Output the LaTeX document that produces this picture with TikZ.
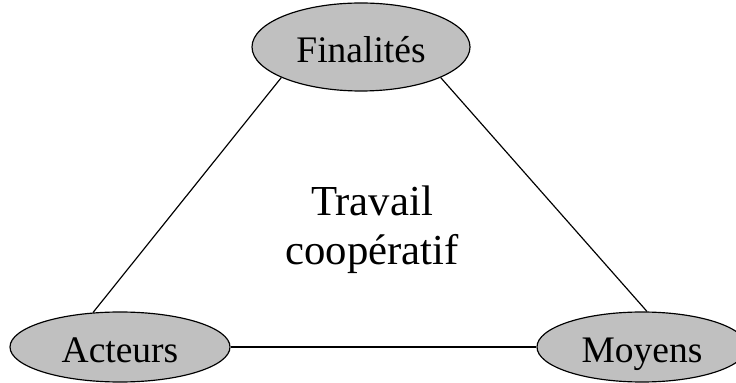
\documentclass[tikz,border=0pt]{standalone}
\usepackage{fontspec}
\setmainfont{Liberation Serif}
\usepackage{tikz}
\usetikzlibrary{shapes,positioning}
\definecolor{bubblegray}{RGB}{192,192,192}
\tikzset{
    pole/.style={draw, ellipse, fill=bubblegray, line width=1pt, inner sep=0pt,
                 text height=27pt, text depth=0pt,
                 font=\fontsize{32}{38}\selectfont},
    link/.style={line width=1pt},
    core/.style={align=center, font=\fontsize{36.5}{42}\selectfont}
}

\begin{document}
\begin{tikzpicture}
\useasboundingbox (0,0) rectangle (22.08,11.49);
\node[pole, minimum width=6.54cm, minimum height=2.64cm] (F) at (10.83,10.08) {Finalités};
\node[pole, minimum width=6.6cm, minimum height=2.1cm] (A) at (3.6,1.08) {Acteurs};
\node[pole, minimum width=6.3cm, minimum height=2.1cm] (M) at (19.26,1.08) {Moyens};
\node[core] (T) at (11.16,4.6) {Travail\\coopératif};

\draw[link] (F.201) -- (A.128);
\draw[link] (F.339) -- (M.82);
\draw[link] (A) -- (M);
\end{tikzpicture}
\end{document}
